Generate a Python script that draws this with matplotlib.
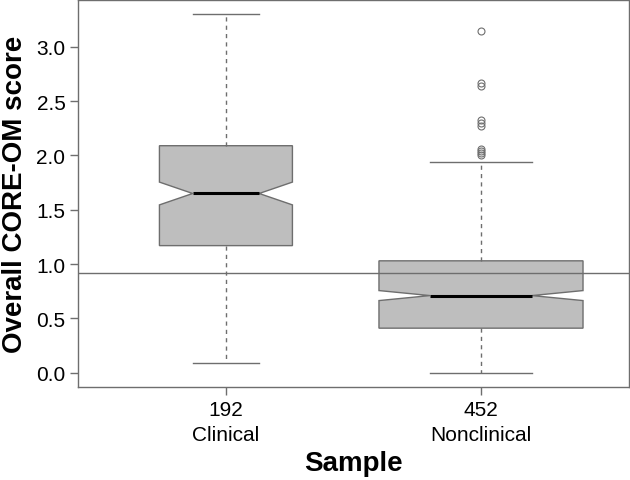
import matplotlib.pyplot as plt

plt.rcParams["font.family"] = ["Liberation Sans", "DejaVu Sans"]

EDGE = "#6e6e6e"
FILL = "#bebebe"

groups = ["Clinical", "Nonclinical"]
n = [192, 452]
whislo = [0.09, 0.0]
q1 = [1.17, 0.41]
med = [1.65, 0.71]
q3 = [2.09, 1.03]
whishi = [3.30, 1.94]
outliers = [[], [2.00, 2.02, 2.04, 2.06, 2.27, 2.30, 2.33, 2.64, 2.67, 3.15]]
cutoff = 0.92

stats = []
for i in range(len(groups)):
    iqr = q3[i] - q1[i]
    half = 1.58 * iqr / n[i] ** 0.5
    stats.append(dict(med=med[i], q1=q1[i], q3=q3[i], whislo=whislo[i],
                      whishi=whishi[i], fliers=outliers[i],
                      cilo=med[i] - half, cihi=med[i] + half))

# varwidth, as R does it
widths = [0.8 * (k / max(n)) ** 0.5 for k in n]

fig = plt.figure(figsize=(6.3, 4.81), dpi=100)
ax = fig.add_axes([0.1238, 0.1933, 0.8745, 0.8047])

ax.bxp(stats, positions=[1, 2], widths=widths, shownotches=True,
       patch_artist=True,
       boxprops=dict(facecolor=FILL, edgecolor=EDGE, lw=1.0),
       medianprops=dict(color="black", lw=2.2, solid_capstyle="butt"),
       whiskerprops=dict(color=EDGE, lw=1.0, ls=(0, (3, 3))),
       capprops=dict(color=EDGE, lw=1.0),
       flierprops=dict(marker="o", ms=5, mfc="none", mec=EDGE, mew=0.8))

ax.axhline(cutoff, color=EDGE, lw=1.0, zorder=3)

ax.set_xlim(0.42, 2.58)
ax.set_ylim(-0.132, 3.432)
ax.set_yticks([0, 0.5, 1.0, 1.5, 2.0, 2.5, 3.0])
ax.set_yticklabels([f"{v:.1f}" for v in ax.get_yticks()], fontsize=15)
ax.set_xticks([1, 2])
ax.set_xticklabels([f"{k}\n{g}" for k, g in zip(n, groups)], fontsize=15,
                   linespacing=1.4)
ax.tick_params(color=EDGE, length=6, width=1.0, pad=3)
for s in ax.spines.values():
    s.set_color(EDGE)
    s.set_linewidth(1.0)

ax.set_xlabel("Sample", fontsize=20, fontweight="bold", labelpad=5)
ax.set_ylabel("Overall CORE-OM score", fontsize=20, fontweight="bold",
              labelpad=6)

fig.savefig("out.png")
